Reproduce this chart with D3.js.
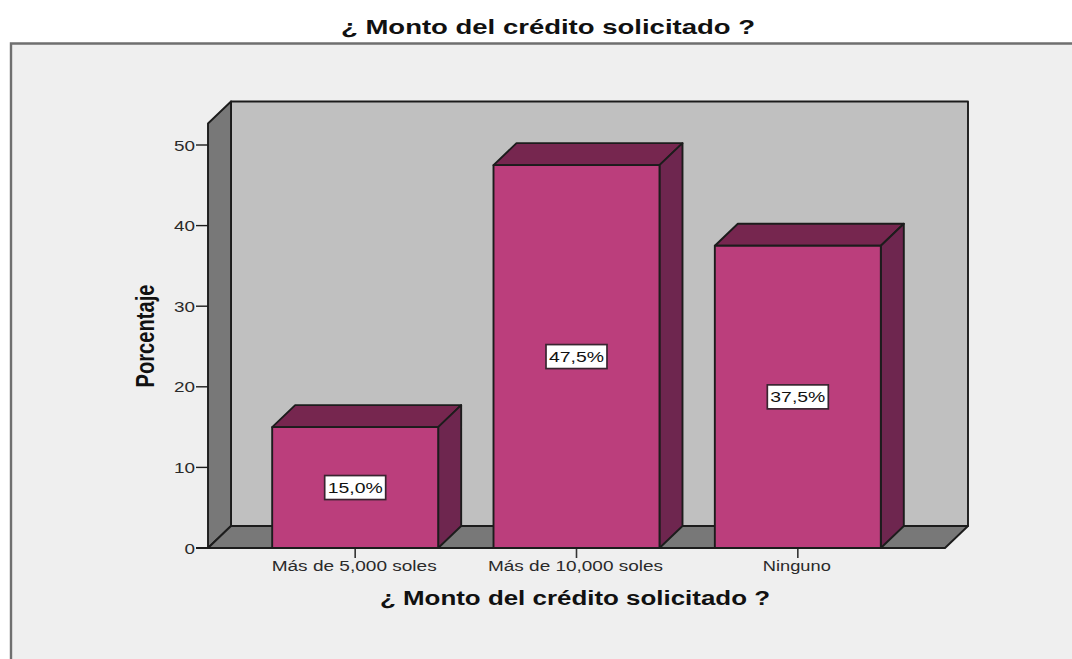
<!DOCTYPE html>
<html><head><meta charset="utf-8">
<script src="https://cdnjs.cloudflare.com/ajax/libs/d3/7.8.5/d3.min.js"></script>
<style>html,body{margin:0;padding:0;background:#fff}svg{display:block}text{font-family:"Liberation Sans",Arial,sans-serif}</style>
</head><body><svg id="c" width="1072" height="659"></svg>
<script>
const categories = ["Más de 5,000 soles","Más de 10,000 soles","Ninguno"];
const values = [15.0,47.5,37.5];
const valueLabels = ["15,0%","47,5%","37,5%"];
const yTicks = [0,10,20,30,40,50];
const titleText = "¿ Monto del crédito solicitado ?";
const yTitle = "Porcentaje";

const svg = d3.select("#c");
const W=1072,H=659, dx=23, dy=-22;
const x = d3.scaleBand().domain(categories).range([208,945]).paddingInner(0.25).paddingOuter(0.29);
const y = d3.scaleLinear().domain([0,50]).range([548,145]);
const y0=y(0), topFront=123.5, stroke="#1c1c1c";
const poly=(pts,fill,sw=1.9)=>svg.append("path").attr("d","M"+pts.map(p=>p.join(",")).join("L")+"Z").attr("fill",fill).attr("stroke",stroke).attr("stroke-width",sw).attr("stroke-linejoin","round");

// panel
svg.append("rect").attr("x",11).attr("y",43).attr("width",W-11).attr("height",H-43).attr("fill","#efefef");
svg.append("path").attr("d",`M11,${H}V43.5H${W}`).attr("fill","none").attr("stroke","#6f6f6f").attr("stroke-width",2.4);

// walls
const L=x.range()[0],R=x.range()[1];
poly([[L+dx,topFront+dy],[R+dx,topFront+dy],[R+dx,y0+dy],[L+dx,y0+dy]],"#c0c0c0");
poly([[L,topFront],[L+dx,topFront+dy],[L+dx,y0+dy],[L,y0]],"#787878");
poly([[L,y0],[L+dx,y0+dy],[R+dx,y0+dy],[R,y0]],"#787878");

// y axis ticks
const gy=svg.append("g");
yTicks.forEach(t=>{
  gy.append("line").attr("x1",L-12).attr("x2",L).attr("y1",y(t)).attr("y2",y(t)).attr("stroke",stroke).attr("stroke-width",1.4);
  const lab=gy.append("text").attr("x",L-13).attr("y",y(t)+5.5).attr("text-anchor","end").attr("font-size",15).attr("fill","#2a2a2a").text(t);
  if(t>0) lab.attr("textLength",21).attr("lengthAdjust","spacingAndGlyphs");
  else lab.attr("textLength",10.5).attr("lengthAdjust","spacingAndGlyphs");
});

// bars
categories.forEach((c,i)=>{
  const a=x(c),b=a+x.bandwidth(),t=y(values[i]);
  poly([[a,t],[a+dx,t+dy],[b+dx,t+dy],[b,t]],"#76264f");
  poly([[b,t],[b+dx,t+dy],[b+dx,y0+dy],[b,y0]],"#6e264f");
  poly([[a,t],[b,t],[b,y0],[a,y0]],"#bb3e7c");
  const cx=(a+b)/2;
  svg.append("line").attr("x1",cx).attr("x2",cx).attr("y1",y0).attr("y2",y0+10).attr("stroke","#333").attr("stroke-width",1.6);
  svg.append("text").attr("x",cx-1).attr("y",571).attr("text-anchor","middle").attr("font-size",14).attr("fill","#2a2a2a")
     .attr("textLength",i==2?68:(i==1?175:165)).attr("lengthAdjust","spacingAndGlyphs").text(c);
  const cy=y(values[i]/2);
  svg.append("rect").attr("x",cx-30.5).attr("y",cy-12).attr("width",61).attr("height",24).attr("fill","#fff").attr("stroke","#3a2430").attr("stroke-width",1.7);
  svg.append("text").attr("x",cx).attr("y",cy+5.5).attr("text-anchor","middle").attr("font-size",15.5).attr("fill","#111")
     .attr("textLength",55).attr("lengthAdjust","spacingAndGlyphs").text(valueLabels[i]);
});
// bottom front line
svg.append("line").attr("x1",L-12).attr("x2",R).attr("y1",y0).attr("y2",y0).attr("stroke",stroke).attr("stroke-width",1.8);

// titles
svg.append("text").attr("x",548).attr("y",34).attr("text-anchor","middle").attr("font-size",21).attr("font-weight","bold").attr("fill","#111")
  .attr("textLength",414).attr("lengthAdjust","spacingAndGlyphs").text(titleText);
svg.append("text").attr("x",575).attr("y",605).attr("text-anchor","middle").attr("font-size",20).attr("font-weight","bold").attr("fill","#111")
  .attr("textLength",390).attr("lengthAdjust","spacingAndGlyphs").text(titleText);
svg.append("text").attr("transform","translate(154,336) rotate(-90)").attr("text-anchor","middle").attr("font-size",26).attr("font-weight","bold").attr("fill","#111")
  .attr("textLength",103).attr("lengthAdjust","spacingAndGlyphs").text(yTitle);
</script></body></html>
